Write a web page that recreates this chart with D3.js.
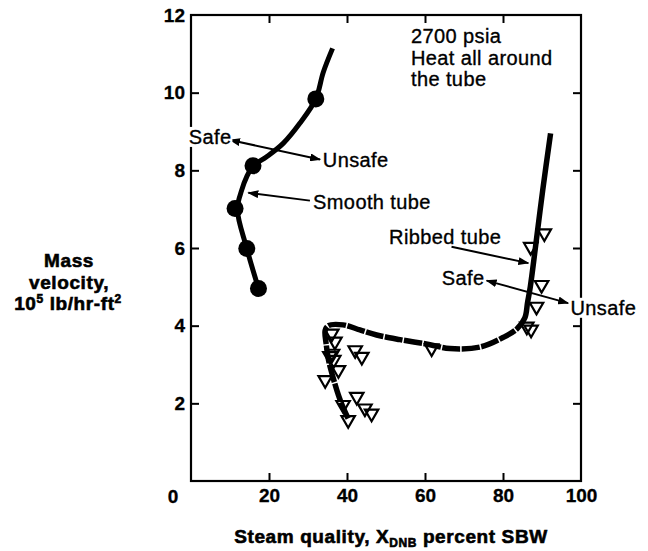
<!DOCTYPE html>
<html>
<head>
<meta charset="utf-8">
<script src="https://cdn.jsdelivr.net/npm/d3@7"></script>
<style>
  html, body { margin: 0; padding: 0; background: #fff; }
  svg { display: block; }
  text { font-family: "Liberation Sans", Arial, Helvetica, sans-serif; fill: #000; }
</style>
</head>
<body>
<svg id="chart" width="648" height="551"></svg>
<script>
// Axis ticks
const xTickValues = [20, 40, 60, 80, 100];
const yTickValues = [2, 4, 6, 8, 10, 12];
const frameTickValuesX = [20, 40, 60, 80];
const frameTickValuesY = [2, 4, 6, 8, 10];

// Smooth tube: measured points (steam quality %, mass velocity 10^5 lb/hr-ft^2)
const smoothQuality  = [32.0, 15.9, 11.3, 14.3, 17.3];
const smoothVelocity = [9.84, 8.12, 7.02, 5.99, 4.96];

// Smooth tube faired curve
const smoothCurveQuality  = [17.3, 14.3, 11.9, 13.0, 14.3, 16.0, 19.4, 23.7, 27.9, 32.0, 33.9, 36.3];
const smoothCurveVelocity = [4.96, 5.99, 7.00, 7.49, 7.84, 8.12, 8.35, 8.70, 9.21, 9.84, 10.52, 11.14];

// Ribbed tube: measured points
const ribbedQuality  = [36.1, 36.9, 35.6, 36.3, 36.6, 37.8, 34.4, 42.1, 43.8, 42.5, 39.0, 44.6, 46.3, 40.3,
                        61.7, 86.1, 87.2, 88.6, 89.9, 87.1, 90.6];
const ribbedVelocity = [3.80, 3.59, 3.22, 3.28, 3.12, 2.86, 2.60, 3.37, 3.20, 2.17, 1.96, 1.87, 1.74, 1.57,
                        3.42, 3.98, 3.90, 4.49, 5.05, 6.03, 6.38];

// Ribbed tube faired curve: low-quality branch up to the bend, then the high-quality branch
const ribbedLowQuality   = [40.3, 39.1, 37.8, 36.5, 35.3, 34.7, 34.4, 35.2, 39.0, 43.3, 47.6, 53.6, 61.3, 66.4, 74.1, 80.1, 83.6, 85.6];
const ribbedLowVelocity  = [1.61, 1.87, 2.21, 2.64, 3.10, 3.50, 3.88, 4.00, 4.02, 3.89, 3.76, 3.64, 3.51, 3.41, 3.45, 3.70, 3.92, 4.20];
const ribbedHighQuality  = [86.3, 87.0, 88.3, 90.2, 92.2];
const ribbedHighVelocity = [4.60, 5.00, 6.00, 7.50, 8.95];

// Callouts (data coordinates)
const notes = [
  { text: "2700 psia",       x: 56.4, y: 11.28 },
  { text: "Heat all around", x: 56.4, y: 10.71 },
  { text: "the tube",        x: 56.4, y: 10.17 },
  { text: "Safe",            x: -0.6, y: 8.68, bg: true },
  { text: "Unsafe",          x: 33.8, y: 8.09 },
  { text: "Smooth tube",     x: 31.3, y: 7.00 },
  { text: "Ribbed tube",     x: 50.8, y: 6.10 },
  { text: "Safe",            x: 64.3, y: 5.05 },
  { text: "Unsafe",          x: 97.3, y: 4.28, bg: true }
];
const arrows = [
  { x1: 10.0, y1: 8.78, x2: 33.1, y2: 8.28, both: true },
  { x1: 30.5, y1: 7.22, x2: 14.7, y2: 7.42, both: false },
  { x1: 66.8, y1: 6.03, x2: 86.5, y2: 5.61, both: false },
  { x1: 75.8, y1: 5.16, x2: 96.7, y2: 4.58, both: true }
];

const svg = d3.select("#chart");
svg.append("rect").attr("width", 648).attr("height", 551).attr("fill", "#fff");

const x = d3.scaleLinear().domain([0, 100]).range([191, 581]);
const y = d3.scaleLinear().domain([0, 12]).range([481, 15]);

const defs = svg.append("defs");
defs.append("marker")
  .attr("id", "head")
  .attr("viewBox", "0 0 11 8")
  .attr("refX", 10).attr("refY", 4)
  .attr("markerWidth", 11).attr("markerHeight", 8)
  .attr("markerUnits", "userSpaceOnUse")
  .attr("orient", "auto-start-reverse")
  .append("path").attr("d", "M0,0 L11,4 L0,8 Z").attr("fill", "#000");

// Frame
svg.append("rect")
  .attr("x", x(0)).attr("y", y(12))
  .attr("width", x(100) - x(0)).attr("height", y(0) - y(12))
  .attr("fill", "none").attr("stroke", "#000").attr("stroke-width", 2.2);

function styleAxis(g) {
  g.select(".domain").remove();
  g.selectAll(".tick line").attr("stroke", "#000").attr("stroke-width", 2);
  g.selectAll(".tick text")
    .attr("font-family", "'Liberation Sans', Arial, sans-serif")
    .attr("font-size", 19).attr("font-weight", "bold").attr("fill", "#000")
    .attr("stroke", "#000").attr("stroke-width", 0.3);
}

svg.append("g")
  .attr("transform", `translate(0,${y(0)})`)
  .call(d3.axisBottom(x).tickValues(xTickValues).tickSize(-8).tickPadding(8).tickFormat(d3.format("d")))
  .call(styleAxis)
  .call(g => g.selectAll(".tick").filter(d => d === 100).select("line").remove());

svg.append("g")
  .attr("transform", `translate(${x(0)},0)`)
  .call(d3.axisLeft(y).tickValues(yTickValues).tickSize(-8).tickPadding(6).tickFormat(d3.format("d")))
  .call(styleAxis)
  .call(g => g.selectAll(".tick").filter(d => d === 12).select("line").remove());

svg.append("g")
  .attr("transform", `translate(0,${y(12)})`)
  .call(d3.axisTop(x).tickValues(frameTickValuesX).tickSize(-8).tickFormat(""))
  .call(styleAxis);

svg.append("g")
  .attr("transform", `translate(${x(100)},0)`)
  .call(d3.axisRight(y).tickValues(frameTickValuesY).tickSize(-8).tickFormat(""))
  .call(styleAxis);

// Shared origin label
svg.append("text")
  .attr("x", x(0) - 18).attr("y", y(0) + 22)
  .attr("text-anchor", "middle")
  .attr("font-size", 19).attr("font-weight", "bold")
  .attr("stroke", "#000").attr("stroke-width", 0.3)
  .text("0");

// Axis titles
const heavy = sel => sel
  .attr("font-weight", "bold")
  .attr("stroke", "#000").attr("stroke-width", 0.6)
  .attr("letter-spacing", 0.6);

const xTitle = svg.append("text")
  .attr("x", 391).attr("y", 543)
  .attr("text-anchor", "middle")
  .attr("font-size", 19)
  .call(heavy);
xTitle.append("tspan").text("Steam quality, X");
xTitle.append("tspan").attr("font-size", 12).attr("dy", 4).text("DNB");
xTitle.append("tspan").attr("dy", -4).text(" percent SBW");

const yTitle = svg.append("text")
  .attr("text-anchor", "middle")
  .attr("font-size", 19)
  .call(heavy);
yTitle.append("tspan").attr("x", 69).attr("y", 267).text("Mass");
yTitle.append("tspan").attr("x", 69).attr("y", 289).text("velocity,");
const l3 = svg.append("text")
  .attr("x", 68).attr("y", 310)
  .attr("text-anchor", "middle")
  .attr("font-size", 19)
  .call(heavy);
l3.append("tspan").text("10");
l3.append("tspan").attr("font-size", 12).attr("dy", -7).text("5");
l3.append("tspan").attr("dy", 7).text(" lb/hr-ft");
l3.append("tspan").attr("font-size", 12).attr("dy", -7).text("2");

// Curves
const line = d3.line().x(d => x(d[0])).y(d => y(d[1])).curve(d3.curveCatmullRom.alpha(0.5));

svg.append("path")
  .datum(d3.zip(smoothCurveQuality, smoothCurveVelocity))
  .attr("d", line)
  .attr("fill", "none").attr("stroke", "#000").attr("stroke-width", 5)
  .attr("stroke-linejoin", "round");

// Ribbed curve as one continuous stroke; the low branch is drawn with small breaks
const ribbedLow = d3.zip(ribbedLowQuality, ribbedLowVelocity);
const ribbedAll = ribbedLow.concat(d3.zip(ribbedHighQuality, ribbedHighVelocity));
const ribbedPath = svg.append("path")
  .datum(ribbedAll)
  .attr("d", line)
  .attr("fill", "none").attr("stroke", "#000").attr("stroke-width", 5.5)
  .attr("stroke-linejoin", "round");
const probe = svg.append("path").datum(ribbedLow).attr("d", line).attr("fill", "none");
const lowLen = probe.node().getTotalLength();
probe.remove();
const totalLen = ribbedPath.node().getTotalLength();
const dashes = [];
for (let acc = 0; acc < lowLen - 20; acc += 19.5) dashes.push(18, 1.5);
dashes.push(totalLen, 0);
ribbedPath.attr("stroke-dasharray", dashes.join(" "));

// Smooth tube data points
svg.append("g").selectAll("circle")
  .data(d3.zip(smoothQuality, smoothVelocity))
  .join("circle")
  .attr("cx", d => x(d[0])).attr("cy", d => y(d[1]))
  .attr("r", 8.5).attr("fill", "#000");

// Ribbed tube data points (open, point-down triangles)
const tri = d3.symbol().type(d3.symbolTriangle).size(78);
svg.append("g").selectAll("path")
  .data(d3.zip(ribbedQuality, ribbedVelocity))
  .join("path")
  .attr("d", tri)
  .attr("transform", d => `translate(${x(d[0])},${y(d[1])}) rotate(180)`)
  .attr("fill", "none").attr("stroke", "#000").attr("stroke-width", 2.2);

// Leader arrows
svg.append("g").selectAll("line")
  .data(arrows)
  .join("line")
  .attr("x1", d => x(d.x1)).attr("y1", d => y(d.y1))
  .attr("x2", d => x(d.x2)).attr("y2", d => y(d.y2))
  .attr("stroke", "#000").attr("stroke-width", 2)
  .attr("marker-end", "url(#head)")
  .attr("marker-start", d => d.both ? "url(#head)" : null);

// Callout text
const noteG = svg.append("g");
notes.forEach(n => {
  const t = noteG.append("text")
    .attr("x", x(n.x)).attr("y", y(n.y))
    .attr("font-size", 20).attr("letter-spacing", 0.4)
    .attr("stroke", "#000").attr("stroke-width", 0.35)
    .text(n.text);
  if (n.bg) {
    const b = t.node().getBBox();
    noteG.insert("rect", () => t.node())
      .attr("x", b.x - 1).attr("y", b.y + 1)
      .attr("width", b.width + 2).attr("height", b.height - 2)
      .attr("fill", "#fff");
  }
});
</script>
</body>
</html>
